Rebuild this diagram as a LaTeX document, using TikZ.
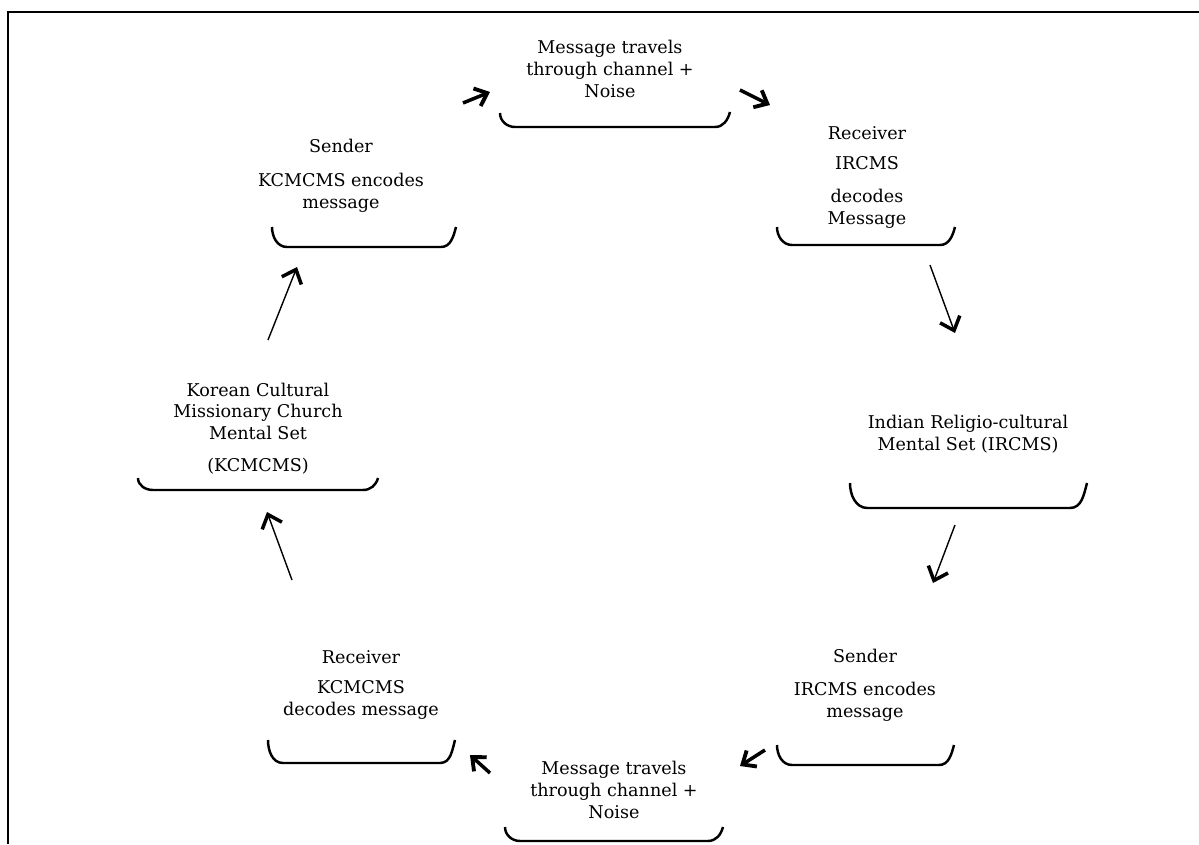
\documentclass[tikz,border=0pt]{standalone}
\usepackage{fontspec}
\setmainfont{DejaVu Serif}
\usepackage{tikz}
\usetikzlibrary{arrows.meta,positioning}

\begin{document}
\begin{tikzpicture}[
        label/.style={align=center, inner sep=0pt, font=\fontsize{10}{12.5}\selectfont},
        cup/.style={line width=1.4pt},
        arrow/.style={-{Straight Barb[length=2.4mm,width=4.2mm,line width=2pt]}, line width=0.8pt},
        quick/.style={-{Straight Barb[length=2.2mm,width=3.8mm,line width=2.2pt]}, line width=2pt}
    ]
        \useasboundingbox (-12,-8.44) rectangle (11.98,8.44);

        % Frame
        \draw[line width=0.6pt] (-11.84,-8.44) -- (-11.84,8.2) -- (11.98,8.2);

        % Labels
        \node[label] (chantop) at (0.2,7.06) {Message travels\\through channel +\\Noise};
        \node[label] (recvir) at (5.34,4.89) {Receiver\\[4.5pt]IRCMS\\[6pt]decodes\\Message};
        \node[label] (indian) at (7.36,-0.25) {Indian Religio-cultural\\Mental Set (IRCMS)};
        \node[label] (sendir) at (5.3,-5.27) {Sender\\[6pt]IRCMS encodes\\message};
        \node[label] (chanbot) at (0.28,-7.35) {Message travels\\through channel +\\Noise};
        \node[label] (recvkc) at (-4.78,-5.26) {Receiver\\[5pt]KCMCMS\\decodes message};
        \node[label] (korean) at (-6.84,-0.13) {Korean Cultural\\Missionary Church\\Mental Set\\[5.5pt](KCMCMS)};
        \node[label] (sendkc) at (-5.18,4.93) {Sender\\[7pt]KCMCMS encodes\\message};

        % Brackets under the labels
        \draw[cup] (-2.0,6.18) to[out=-90,in=180] (-1.7,5.9) -- (2.3,5.9) to[out=0,in=-105] (2.6,6.2);
        \draw[cup] (3.54,3.9) to[out=-90,in=180] (3.84,3.54) -- (6.8,3.54) to[out=0,in=-105] (7.1,3.9);
        \draw[cup] (5.0,-1.22) to[out=-90,in=180] (5.35,-1.72) -- (9.4,-1.72) to[out=0,in=-105] (9.74,-1.22);
        \draw[cup] (3.54,-6.46) to[out=-90,in=180] (3.84,-6.86) -- (6.78,-6.86) to[out=0,in=-105] (7.08,-6.46);
        \draw[cup] (-1.9,-8.1) to[out=-90,in=180] (-1.6,-8.38) -- (2.16,-8.38) to[out=0,in=-105] (2.46,-8.1);
        \draw[cup] (-6.64,-6.36) to[out=-90,in=180] (-6.34,-6.82) -- (-3.2,-6.82) to[out=0,in=-105] (-2.9,-6.36);
        \draw[cup] (-9.24,-1.12) to[out=-90,in=180] (-8.94,-1.36) -- (-4.74,-1.36) to[out=0,in=-105] (-4.44,-1.12);
        \draw[cup] (-6.56,3.9) to[out=-90,in=180] (-6.26,3.5) -- (-3.18,3.5) to[out=0,in=-105] (-2.88,3.9);

        % Arrow ends
        \coordinate (sk-out) at (-2.74,6.38);  \coordinate (ct-in) at (-2.2,6.6);
        \coordinate (ct-out) at (2.8,6.64);    \coordinate (ri-in) at (3.4,6.34);
        \coordinate (ri-out) at (6.6,3.14);    \coordinate (in-in) at (7.1,1.78);
        \coordinate (in-out) at (7.1,-2.06);   \coordinate (si-in) at (6.66,-3.22);
        \coordinate (si-out) at (3.3,-6.56);   \coordinate (cb-in) at (2.8,-6.88);
        \coordinate (cb-out) at (-2.2,-7.02);  \coordinate (rk-in) at (-2.6,-6.66);
        \coordinate (rk-out) at (-6.16,-3.16); \coordinate (ko-in) at (-6.66,-1.8);
        \coordinate (ko-out) at (-6.64,1.64);  \coordinate (sk-in) at (-6.06,3.1);

        % Arrows round the cycle
        \draw[quick] (sk-out) -- (ct-in);
        \draw[quick] (ct-out) -- (ri-in);
        \draw[arrow] (ri-out) -- (in-in);
        \draw[arrow] (in-out) -- (si-in);
        \draw[quick] (si-out) -- (cb-in);
        \draw[quick] (cb-out) -- (rk-in);
        \draw[arrow] (rk-out) -- (ko-in);
        \draw[arrow] (ko-out) -- (sk-in);

    \end{tikzpicture}
\end{document}
